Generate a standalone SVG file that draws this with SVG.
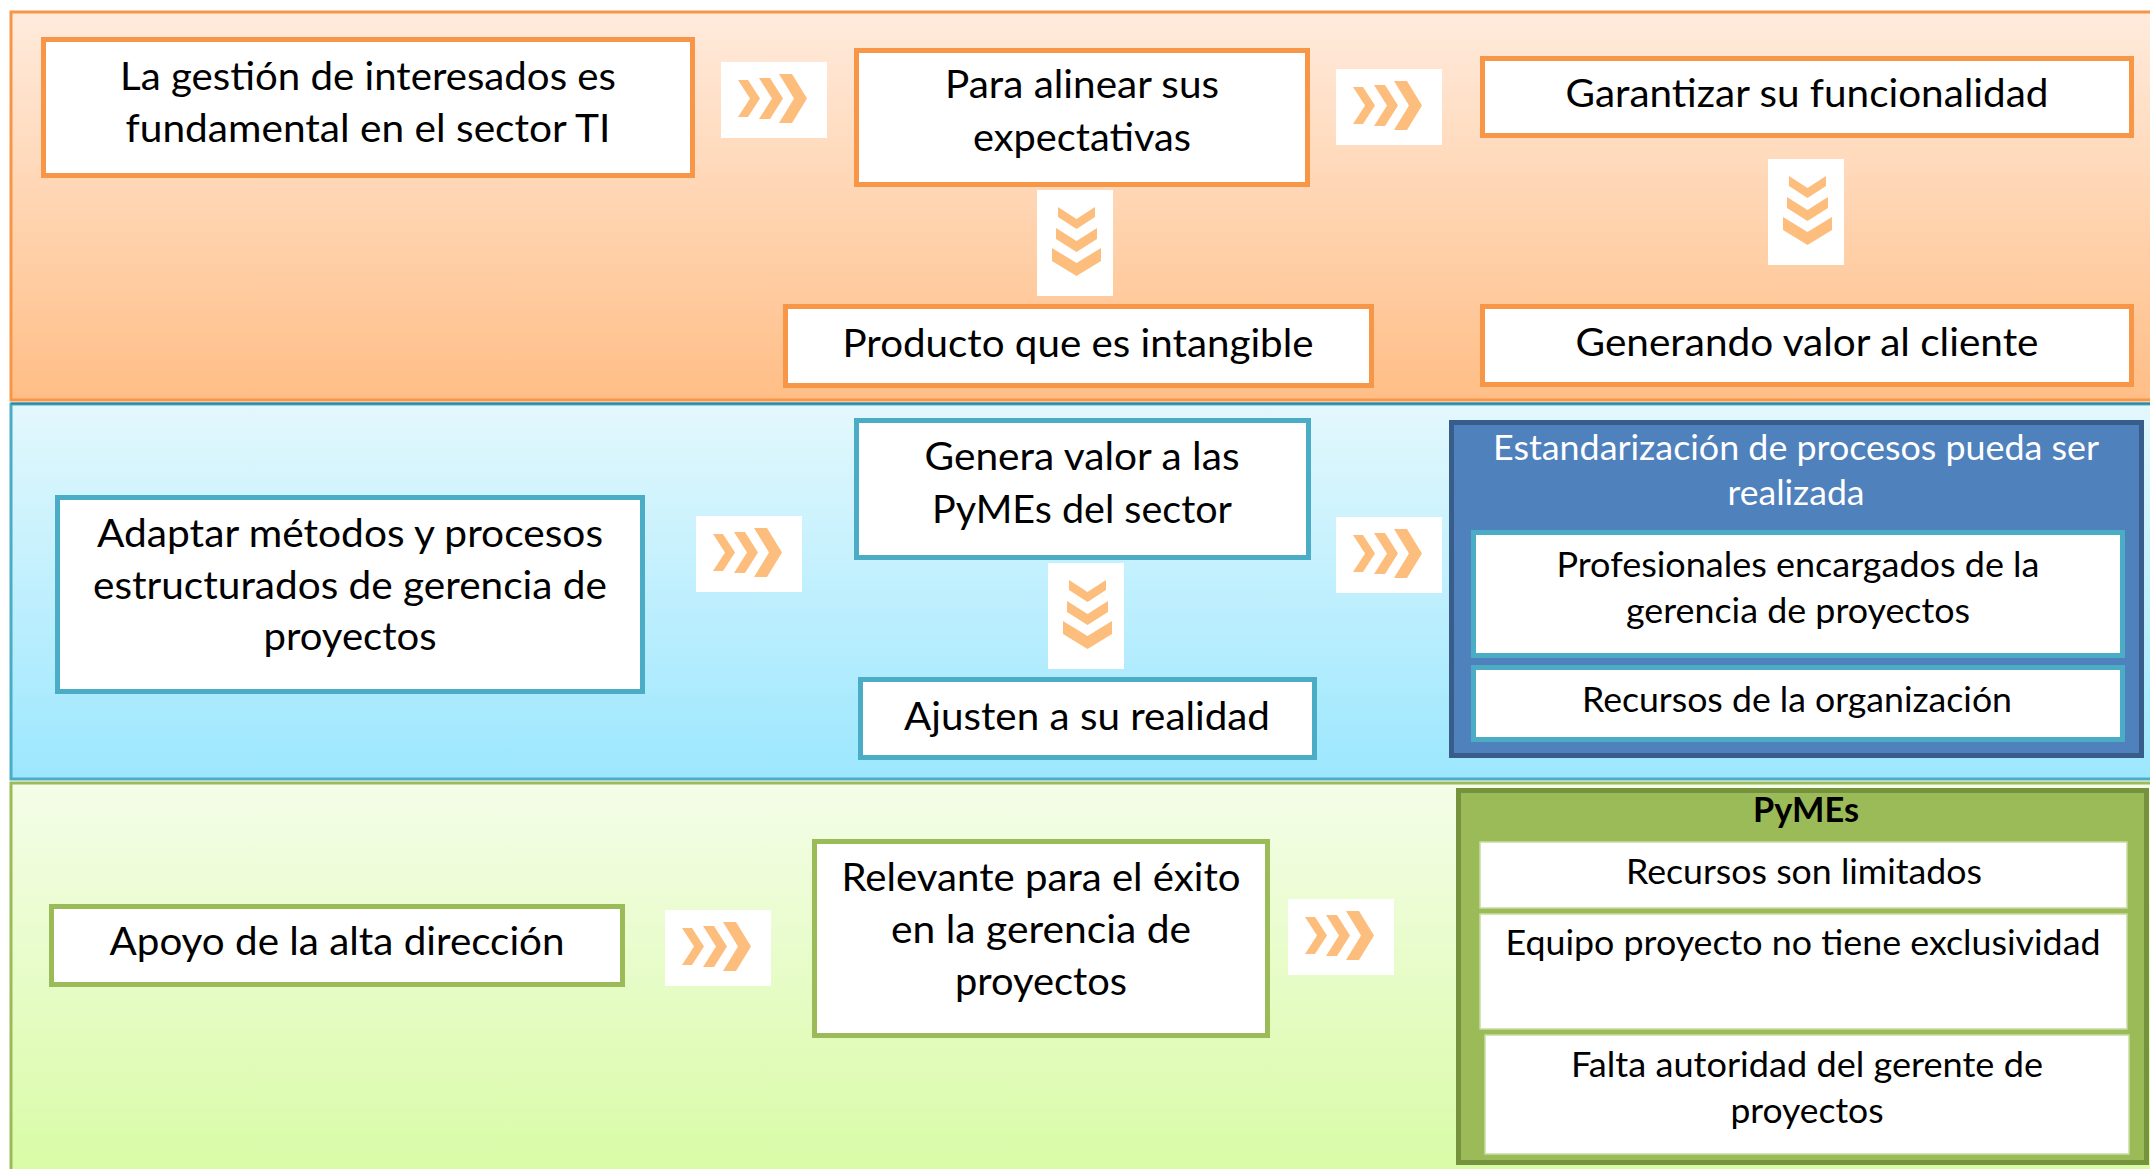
<svg xmlns="http://www.w3.org/2000/svg" xmlns:xlink="http://www.w3.org/1999/xlink" width="2150" height="1169" viewBox="0 0 2150 1169">
<defs>
<linearGradient id="gOr" x1="0" y1="0" x2="0" y2="1"><stop offset="0" stop-color="#FFEBDD"/><stop offset="1" stop-color="#FFBE86"/></linearGradient>
<linearGradient id="gBl" x1="0" y1="0" x2="0" y2="1"><stop offset="0" stop-color="#E3F8FD"/><stop offset="1" stop-color="#9CE7FE"/></linearGradient>
<linearGradient id="gGr" x1="0" y1="0" x2="0" y2="1"><stop offset="0" stop-color="#F4FDE8"/><stop offset="1" stop-color="#D8FBA4"/></linearGradient>
<symbol id="chev" viewBox="0 0 106 76" width="106" height="76" overflow="visible">
<rect x="0" y="0" width="106" height="76" fill="#FFFFFF"/>
<polygon class="cv" points="17,18 27,18 39,36.5 27,55 17,55 29,36.5"/>
<polygon class="cv" points="38,16 49,16 62,36.5 49,57 38,57 51,36.5"/>
<polygon class="cv" points="58,12 71,12 86,36.5 71,61 58,61 73,36.5"/>
</symbol>
</defs>
<style>
.cv{fill:#FDBD7C;}
.band{stroke-width:3;}
.ob{fill:#FFFFFF;stroke:#F79646;stroke-width:5;}
.bb{fill:#FFFFFF;stroke:#4BACC6;stroke-width:5;}
.gb{fill:#FFFFFF;stroke:#9BBB59;stroke-width:5;}
.gi{fill:#FFFFFF;stroke:#C9DDA0;stroke-width:1.5;}
text{font-family:Lato,"Open Sans","Liberation Sans",sans-serif;text-anchor:middle;fill:#000000;}
.t{font-size:39px;}
.s{font-size:35px;}
.w{fill:#FFFFFF;}
.b{font-weight:bold;}
</style>
<rect x="0" y="0" width="2150" height="1169" fill="#FFFFFF"/>
<g id="bands">
<rect class="band" x="11" y="12" width="2150" height="388" fill="url(#gOr)" stroke="#F79646"/>
<rect class="band" x="11" y="404" width="2150" height="375" fill="url(#gBl)" stroke="#4BACC6"/>
<line x1="11" y1="403.5" x2="2150" y2="403.5" stroke="#31849B" stroke-width="2"/>
<rect class="band" x="11" y="783" width="2150" height="400" fill="url(#gGr)" stroke="#9BBB59"/>
</g>
<g id="connectors">
<use xlink:href="#chev" href="#chev" x="721" y="62"/>
<use xlink:href="#chev" href="#chev" x="1336" y="69"/>
<use xlink:href="#chev" href="#chev" transform="translate(1113,190) rotate(90)"/>
<use xlink:href="#chev" href="#chev" transform="translate(1844,159) rotate(90)"/>
<use xlink:href="#chev" href="#chev" x="696" y="516"/>
<use xlink:href="#chev" href="#chev" x="1336" y="517"/>
<use xlink:href="#chev" href="#chev" transform="translate(1124,563) rotate(90)"/>
<use xlink:href="#chev" href="#chev" x="665" y="910"/>
<use xlink:href="#chev" href="#chev" x="1288" y="899"/>
</g>
<g id="nA"><rect class="ob" x="43.5" y="39.5" width="649" height="136"/>
<text class="t" x="368" y="90" textLength="496" lengthAdjust="spacingAndGlyphs">La gestión de interesados es</text>
<text class="t" x="368" y="142" textLength="485" lengthAdjust="spacingAndGlyphs">fundamental en el sector TI</text></g>
<g id="nB"><rect class="ob" x="856.5" y="50.5" width="451" height="134"/>
<text class="t" x="1082" y="98" textLength="274" lengthAdjust="spacingAndGlyphs">Para alinear sus</text>
<text class="t" x="1082" y="151" textLength="218" lengthAdjust="spacingAndGlyphs">expectativas</text></g>
<g id="nC"><rect class="ob" x="1482.5" y="58.5" width="649" height="77"/>
<text class="t" x="1807" y="107" textLength="483" lengthAdjust="spacingAndGlyphs">Garantizar su funcionalidad</text></g>
<g id="nD"><rect class="ob" x="785.5" y="306.5" width="586" height="79"/>
<text class="t" x="1078" y="357" textLength="471" lengthAdjust="spacingAndGlyphs">Producto que es intangible</text></g>
<g id="nE"><rect class="ob" x="1482.5" y="306.5" width="649" height="78"/>
<text class="t" x="1807" y="356" textLength="463" lengthAdjust="spacingAndGlyphs">Generando valor al cliente</text></g>
<g id="nF"><rect class="bb" x="57.5" y="497.5" width="585" height="194"/>
<text class="t" x="350" y="547" textLength="506" lengthAdjust="spacingAndGlyphs">Adaptar métodos y procesos</text>
<text class="t" x="350" y="599" textLength="514" lengthAdjust="spacingAndGlyphs">estructurados de gerencia de</text>
<text class="t" x="350" y="650" textLength="173" lengthAdjust="spacingAndGlyphs">proyectos</text></g>
<g id="nG"><rect class="bb" x="856.5" y="420.5" width="452" height="137"/>
<text class="t" x="1082" y="470" textLength="315" lengthAdjust="spacingAndGlyphs">Genera valor a las</text>
<text class="t" x="1082" y="523" textLength="300" lengthAdjust="spacingAndGlyphs">PyMEs del sector</text></g>
<g id="nH"><rect class="bb" x="860.5" y="679.5" width="454" height="78"/>
<text class="t" x="1087" y="730" textLength="366" lengthAdjust="spacingAndGlyphs">Ajusten a su realidad</text></g>
<g id="nStd"><rect x="1451.5" y="422.5" width="690" height="333" fill="#4F81BD" stroke="#385D8A" stroke-width="5"/>
<text class="s w" x="1796" y="460" textLength="606" lengthAdjust="spacingAndGlyphs">Estandarización de procesos pueda ser</text>
<text class="s w" x="1796" y="505" textLength="137" lengthAdjust="spacingAndGlyphs">realizada</text>
<g id="nStd1"><rect class="bb" x="1473.5" y="532.5" width="649" height="123"/>
<text class="s" x="1798" y="577" textLength="483" lengthAdjust="spacingAndGlyphs">Profesionales encargados de la</text>
<text class="s" x="1798" y="623" textLength="344" lengthAdjust="spacingAndGlyphs">gerencia de proyectos</text></g>
<g id="nStd2"><rect class="bb" x="1473.5" y="667.5" width="649" height="72"/>
<text class="s" x="1797" y="712" textLength="430" lengthAdjust="spacingAndGlyphs">Recursos de la organización</text></g>
</g>
<g id="nI"><rect class="gb" x="51.5" y="906.5" width="571" height="78"/>
<text class="t" x="337" y="955" textLength="455" lengthAdjust="spacingAndGlyphs">Apoyo de la alta dirección</text></g>
<g id="nJ"><rect class="gb" x="814.5" y="841.5" width="453" height="194"/>
<text class="t" x="1041" y="891" textLength="399" lengthAdjust="spacingAndGlyphs">Relevante para el éxito</text>
<text class="t" x="1041" y="943" textLength="300" lengthAdjust="spacingAndGlyphs">en la gerencia de</text>
<text class="t" x="1041" y="995" textLength="172" lengthAdjust="spacingAndGlyphs">proyectos</text></g>
<g id="nPy"><rect x="1458.5" y="790.5" width="688" height="372" fill="#9BBB59" stroke="#76923C" stroke-width="5"/>
<text class="s b" x="1806" y="822" textLength="106" lengthAdjust="spacingAndGlyphs">PyMEs</text>
<g id="nPy1"><rect class="gi" x="1480" y="842" width="647" height="66"/>
<text class="s" x="1804" y="884" textLength="356" lengthAdjust="spacingAndGlyphs">Recursos son limitados</text></g>
<g id="nPy2"><rect class="gi" x="1480" y="914" width="647" height="115"/>
<text class="s" x="1803" y="955" textLength="595" lengthAdjust="spacingAndGlyphs">Equipo proyecto no tiene exclusividad</text></g>
<g id="nPy3"><rect class="gi" x="1485" y="1035" width="644" height="119"/>
<text class="s" x="1807" y="1077" textLength="472" lengthAdjust="spacingAndGlyphs">Falta autoridad del gerente de</text>
<text class="s" x="1807" y="1123" textLength="153" lengthAdjust="spacingAndGlyphs">proyectos</text></g>
</g>
</svg>
